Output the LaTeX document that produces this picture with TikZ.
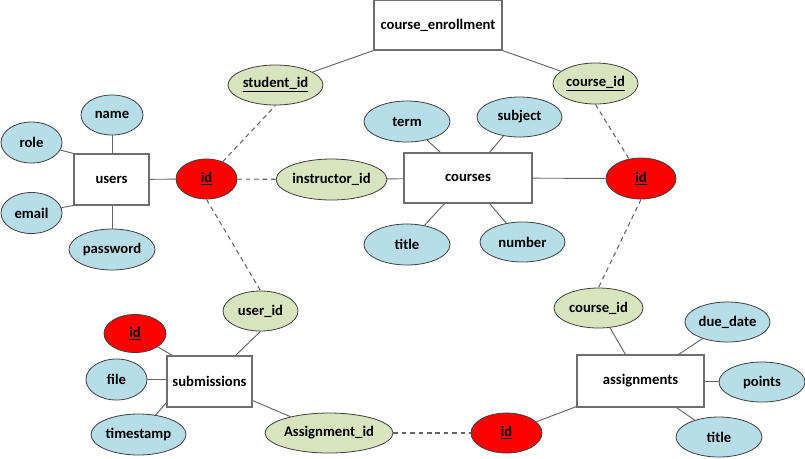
\documentclass[tikz,border=0pt]{standalone}
\usepackage{fontspec}
\setmainfont{Carlito}
\usetikzlibrary{calc,shapes.geometric}
\definecolor{attblue}{RGB}{183,221,232}
\definecolor{fkgreen}{RGB}{215,228,189}
\definecolor{pkred}{RGB}{255,0,0}
\definecolor{edge}{RGB}{64,64,64}
\definecolor{boxline}{RGB}{110,110,110}
\definecolor{conn}{RGB}{100,100,100}
\tikzset{
  sz/.style 2 args={minimum width=#1*0.75pt, minimum height=#2*0.75pt},
  attr/.style={ellipse, draw=edge, line width=0.6pt, fill=attblue, inner sep=0pt, font=\fontsize{11}{13}\selectfont\bfseries},
  fkey/.style={attr, fill=fkgreen},
  pkey/.style={attr, fill=pkred},
  entity/.style={rectangle, draw=boxline, line width=0.8pt, fill=white, inner sep=0pt, font=\fontsize{11}{13}\selectfont\bfseries},
  link/.style={draw=conn, line width=0.7pt},
  dlink/.style={draw=conn, line width=0.8pt, dash pattern=on 3.5pt off 2.8pt},
}
\begin{document}
\begin{tikzpicture}[x=0.75pt, y=-0.75pt]
\useasboundingbox (0,0) rectangle (805,458);
% entities
\node[entity, sz={128}{50}] (ce) at (438,25) {course\_enrollment};
\node[entity, sz={75}{51}] (users) at (111.5,179.5) {users};
\node[entity, sz={128}{50}] (courses) at (468,178) {courses};
\node[entity, sz={85}{51}] (subm) at (209.5,381.5) {submissions};
\node[entity, sz={127}{52}] (asg) at (640.5,381) {assignments};
% users attributes
\node[attr, sz={62}{40}] (name) at (112,115) {name};
\node[attr, sz={61}{41}] (role) at (31.5,142.5) {role};
\node[attr, sz={61}{41}] (email) at (31.5,213) {email};
\node[attr, sz={86}{41}] (password) at (112,249.5) {password};
\node[pkey, sz={61}{40}] (idL) at (206.5,179) {\underline{id}};
% course_enrollment keys
\node[fkey, sz={95}{40}] (sid) at (275.5,85) {\underline{student\_id}};
\node[fkey, sz={85}{41}] (cid1) at (595.5,83.5) {\underline{course\_id}};
% courses
\node[fkey, sz={109}{41}] (instr) at (331.5,179.5) {instructor\_id};
\node[attr, sz={86}{41}] (term) at (407,121.5) {term};
\node[attr, sz={85}{40}] (subject) at (519.5,117) {subject};
\node[attr, sz={86}{41}] (title1) at (407,244.5) {title};
\node[attr, sz={85}{40}] (number) at (522.5,242) {number};
\node[pkey, sz={70}{41}] (idR) at (641,178.5) {\underline{id}};
% submissions
\node[fkey, sz={75}{40}] (uid) at (260.5,311) {user\_id};
\node[pkey, sz={62}{38}] (idS) at (135,333.5) {\underline{id}};
\node[attr, sz={61}{41}] (file) at (116.5,379.5) {file};
\node[attr, sz={95}{41}] (tstamp) at (138.5,434.5) {timestamp};
\node[fkey, sz={128}{40}] (aid) at (329,433) {Assignment\_id};
\node[pkey, sz={71}{40}] (idB) at (506.5,433) {\underline{id}};
% assignments
\node[fkey, sz={89}{40}] (cid2) at (598.5,308) {course\_id};
\node[attr, sz={85}{40}] (due) at (727.5,322) {due\_date};
\node[attr, sz={86}{40}] (points) at (762,382) {points};
\node[attr, sz={86}{40}] (title2) at (719,437) {title};
% connectors: users
\draw[link] (role) -- (users.north west);
\draw[link] (email) -- (users.south west);
\draw[link] (name) -- (name.south |- users.north);
\draw[link] (password) -- (password.north |- users.south);
\draw[link] (users) -- (idL);
% course_enrollment
\draw[dlink] (idL) -- (sid.south);
\draw[link] (sid) -- (ce.south west);
\draw[link] (ce.south east) -- (cid1);
\draw[dlink] (cid1.south) -- (idR);
% courses
\draw[link] (courses) -- (idR);
\draw[link] (instr) -- (courses);
\draw[dlink] (idL) -- (instr);
\draw[link] (term) -- ($(courses.north west)+(37,0)$);
\draw[link] (subject) -- ($(courses.north west)+(86,0)$);
\draw[link] (title1) -- ($(courses.south west)+(41,0)$);
\draw[link] (number) -- ($(courses.south west)+(86,0)$);
% submissions
\draw[dlink] (idL.south) -- (uid.north);
\draw[link] (uid.south) -- ($(subm.north west)+(69,0)$);
\draw[link] (idS) -- ($(subm.north west)+(6,0)$);
\draw[link] (file.east) -- (file.east -| subm.west);
\draw[link] (tstamp) -- ($(subm.south west)+(0,-5)$);
\draw[link] ($(subm.south east)+(0,-7)$) -- (aid);
\draw[dlink] (aid) -- (idB);
% assignments
\draw[link] (idB) -- ($(asg.south west)+(0,-1)$);
\draw[link] (cid2) -- ($(asg.north west)+(49,0)$);
\draw[link] (due) -- ($(asg.north west)+(102,0)$);
\draw[link] (asg.east) -- (asg.east -| points.west);
\draw[link] (title2) -- ($(asg.south west)+(100,0)$);
\draw[dlink] (idR.south) -- (cid2.north);
\end{tikzpicture}
\end{document}
